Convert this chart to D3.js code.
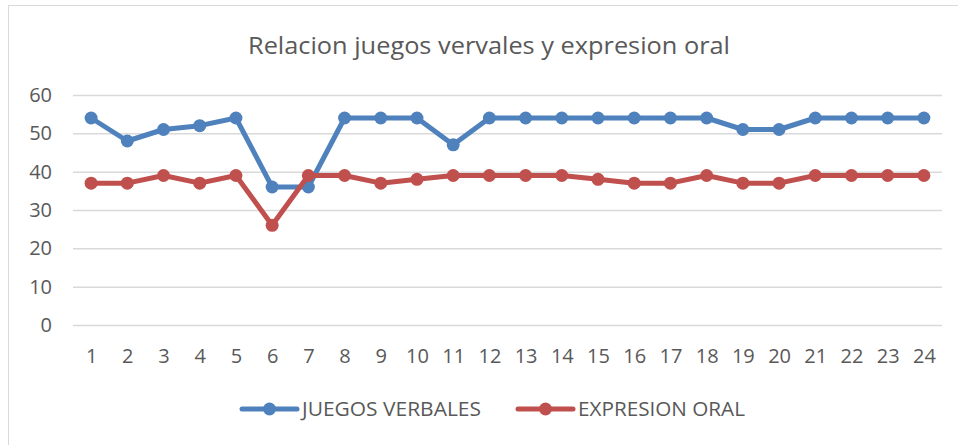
<!DOCTYPE html>
<html>
<head>
<meta charset="utf-8">
<script src="https://cdn.jsdelivr.net/npm/d3@7"></script>
<style>
  body { margin: 0; background: #fff; }
  text { font-family: "Open Sans", "Liberation Sans", sans-serif; fill: #595959; }
</style>
</head>
<body>
<div id="chart"></div>
<script>
// chart data
var categories = ["1","2","3","4","5","6","7","8","9","10","11","12",
                  "13","14","15","16","17","18","19","20","21","22","23","24"];
var juegosVerbales = [54, 48, 51, 52, 54, 36, 36, 54, 54, 54, 47, 54,
                      54, 54, 54, 54, 54, 54, 51, 51, 54, 54, 54, 54];
var expresionOral = [37, 37, 39, 37, 39, 26, 39, 39, 37, 38, 39, 39,
                     39, 39, 38, 37, 37, 39, 37, 37, 39, 39, 39, 39];
var yTicks = [0, 10, 20, 30, 40, 50, 60];
var seriesNames = ["JUEGOS VERBALES", "EXPRESION ORAL"];
var seriesColors = ["#4f81bd", "#c0504d"];

var W = 958, H = 445;
var svg = d3.select("#chart").append("svg")
    .attr("width", W).attr("height", H);

// outer chart frame
svg.append("rect")
    .attr("x", 8.5).attr("y", 5.5)
    .attr("width", 980).attr("height", 480)
    .attr("fill", "none").attr("stroke", "#d9d9d9");

// title
svg.append("text")
    .attr("x", 489).attr("y", 54)
    .attr("text-anchor", "middle")
    .attr("font-size", "24px")
    .attr("textLength", 482).attr("lengthAdjust", "spacingAndGlyphs")
    .text("Relacion juegos vervales y expresion oral");

var plotL = 73, plotR = 942, plotT = 95, plotB = 325;

var x = d3.scalePoint()
    .domain(categories)
    .range([plotL, plotR])
    .padding(0.5);

var y = d3.scaleLinear()
    .domain([0, 60])
    .range([plotB, plotT]);

// y axis with gridlines
var yAxis = svg.append("g")
    .attr("transform", "translate(" + plotL + ",0)")
    .call(d3.axisLeft(y).tickValues(yTicks).tickSize(-(plotR - plotL)).tickPadding(21));
yAxis.select(".domain").remove();
yAxis.selectAll(".tick line").attr("stroke", "#d9d9d9").attr("stroke-width", 1.5);
yAxis.selectAll(".tick text")
    .attr("font-size", "20px")
    .attr("font-family", "'Open Sans', sans-serif")
    .attr("fill", "#595959");

// x axis
var xAxis = svg.append("g")
    .attr("transform", "translate(0," + plotB + ")")
    .call(d3.axisBottom(x).tickSize(0));
xAxis.select(".domain").remove();
xAxis.selectAll(".tick text")
    .attr("y", 38).attr("dy", 0)
    .attr("font-size", "20px")
    .attr("font-family", "'Open Sans', sans-serif")
    .attr("fill", "#595959");

var line = d3.line()
    .x(function(d, i) { return x(categories[i]); })
    .y(function(d) { return y(d); });

[juegosVerbales, expresionOral].forEach(function(data, k) {
  svg.append("path")
      .datum(data)
      .attr("d", line)
      .attr("fill", "none")
      .attr("stroke", seriesColors[k])
      .attr("stroke-width", 5)
      .attr("stroke-linejoin", "round");

  svg.append("g").selectAll("circle")
      .data(data)
      .enter().append("circle")
      .attr("cx", function(d, i) { return x(categories[i]); })
      .attr("cy", function(d) { return y(d); })
      .attr("r", 6.5)
      .attr("fill", seriesColors[k]);
});

// legend
var legendX = [242, 518];
var legendW = [179, 167];
seriesNames.forEach(function(name, k) {
  var g = svg.append("g").attr("transform", "translate(" + legendX[k] + ",409)");
  g.append("line")
      .attr("x1", 0).attr("x2", 55)
      .attr("stroke", seriesColors[k])
      .attr("stroke-width", 5)
      .attr("stroke-linecap", "round");
  g.append("circle")
      .attr("cx", 27.5).attr("r", 6.5)
      .attr("fill", seriesColors[k]);
  g.append("text")
      .attr("x", 60).attr("y", 7)
      .attr("font-size", "20px")
      .attr("textLength", legendW[k]).attr("lengthAdjust", "spacingAndGlyphs")
      .text(name);
});
</script>
</body>
</html>
